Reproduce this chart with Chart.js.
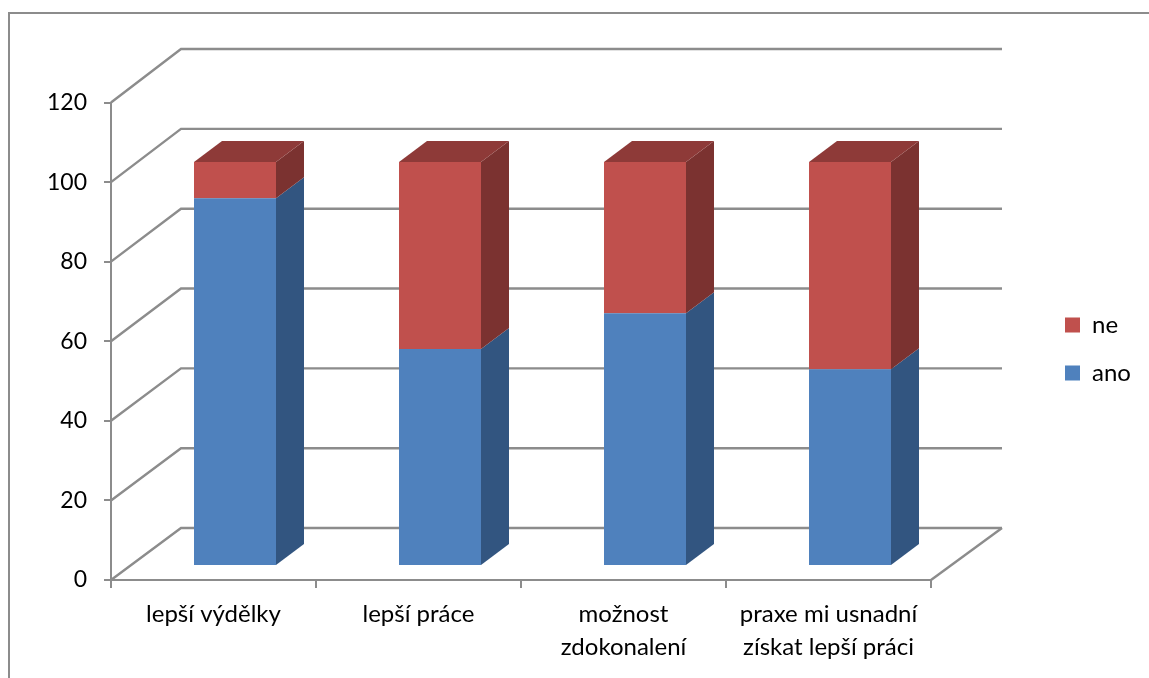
<!DOCTYPE html>
<html>
<head>
<meta charset="utf-8">
<style>
  html, body { margin: 0; padding: 0; background: #fff; }
  canvas { display: block; }
</style>
<script src="https://cdn.jsdelivr.net/npm/chart.js@4"></script>
</head>
<body>
<canvas id="myChart" width="1149" height="678"></canvas>
<script>
const categories = [
  "lepší výdělky",
  "lepší práce",
  ["možnost", "zdokonalení"],
  ["praxe mi usnadní", "získat lepší práci"],
];
const anoValues = [91, 53.6, 62.5, 48.6];
const neValues = [9, 46.4, 37.5, 51.4];

const GRID_COLOR = "#8c8c8c";
const FONT = "Lato";

// hloubka steny a sloupcu v pixelech
const wallDx = 70, wallDy = 52, wallStretch = 0.012;
const barShiftX = 21.5, barShiftY = 15;
const barDx = 28, barDy = 21;

function poly(ctx, pts, color) {
  ctx.fillStyle = color;
  ctx.beginPath();
  pts.forEach((p, i) => (i ? ctx.lineTo(p[0], p[1]) : ctx.moveTo(p[0], p[1])));
  ctx.closePath();
  ctx.fill();
}

function line(ctx, pts) {
  ctx.beginPath();
  pts.forEach((p, i) => (i ? ctx.lineTo(p[0], p[1]) : ctx.moveTo(p[0], p[1])));
  ctx.stroke();
}

const fake3d = {
  id: "fake3d",
  afterLayout(chart) {
    // legenda vpravo mimo plochu grafu
    const lg = chart.legend;
    const w = lg.right - lg.left;
    lg.left = 1041;
    lg.right = lg.left + w;
    const h = lg.bottom - lg.top;
    lg.top = 289;
    lg.bottom = lg.top + h;
  },
  beforeDraw(chart) {
    const ctx = chart.ctx;
    ctx.save();
    ctx.strokeStyle = GRID_COLOR;
    ctx.lineWidth = 2;
    line(ctx, [[9, 678], [9, 13], [1149, 13]]);
    ctx.restore();
  },
  beforeDatasetsDraw(chart) {
    const ctx = chart.ctx;
    const { left, right } = chart.chartArea;
    const y = chart.scales.y;
    ctx.save();
    ctx.strokeStyle = GRID_COLOR;
    ctx.lineWidth = 2.4;
    y.ticks.forEach((t) => {
      const py = y.getPixelForValue(t.value);
      const backY = py - wallDy - t.value * wallStretch;
      line(ctx, [[left, py], [left + wallDx, backY], [right + wallDx + 1, backY]]);
    });
    const py0 = y.getPixelForValue(0);
    line(ctx, [[right, py0], [right + wallDx + 1, py0 - wallDy]]);
    ctx.restore();
    // sloupce stoji na podlaze, posunute dozadu
    ctx.save();
    ctx.translate(barShiftX, -barShiftY);
  },
  afterDatasetsDraw(chart) {
    const ctx = chart.ctx;
    ctx.restore();
    const sideColors = ["#325580", "#7b3230"];
    const topColor = "#8e3a38";
    chart.data.datasets.forEach((ds, d) => {
      chart.getDatasetMeta(d).data.forEach((bar) => {
        const r = bar.x + bar.width / 2 + barShiftX;
        const l = bar.x - bar.width / 2 + barShiftX;
        const t = bar.y - barShiftY;
        const b = bar.base - barShiftY;
        poly(ctx, [[r, t], [r + barDx, t - barDy], [r + barDx, b - barDy], [r, b]], sideColors[d]);
        if (d === chart.data.datasets.length - 1) {
          poly(ctx, [[l, t], [l + barDx, t - barDy], [r + barDx, t - barDy], [r, t]], topColor);
        }
      });
    });
  },
};

new Chart(document.getElementById("myChart"), {
  type: "bar",
  data: {
    labels: categories,
    datasets: [
      { label: "ano", data: anoValues, backgroundColor: "#4f81bd", yAxisID: "yBars", clip: false },
      { label: "ne", data: neValues, backgroundColor: "#c0504d", yAxisID: "yBars", clip: false },
    ],
  },
  plugins: [fake3d],
  options: {
    responsive: false,
    animation: false,
    barPercentage: 0.4,
    categoryPercentage: 1,
    layout: { padding: { top: 102.5, right: 218 } },
    plugins: {
      tooltip: { enabled: false },
      legend: {
        position: "chartArea",
        align: "start",
        reverse: true,
        labels: {
          boxWidth: 15,
          boxHeight: 15,
          padding: 24,
          color: "#000",
          font: { family: FONT, size: 24 },
        },
      },
    },
    scales: {
      x: {
        stacked: true,
        afterFit(scale) { scale.height = 98; },
        border: { color: GRID_COLOR, width: 2 },
        grid: { drawOnChartArea: false, color: GRID_COLOR, lineWidth: 2, tickLength: 8 },
        ticks: {
          color: "#000",
          maxRotation: 0,
          padding: 10,
          font: { family: FONT, size: 24, lineHeight: 1.375 },
        },
      },
      y: {
        min: 0,
        max: 120,
        afterFit(scale) { scale.width = 111; },
        border: { color: GRID_COLOR, width: 2 },
        grid: { drawOnChartArea: false, color: GRID_COLOR, lineWidth: 2, tickLength: 7 },
        ticks: { stepSize: 20, color: "#000", padding: 17, font: { family: FONT, size: 23 } },
      },
      yBars: { display: false, stacked: true, min: 0, max: 118.5 },
    },
  },
});
</script>
</body>
</html>
